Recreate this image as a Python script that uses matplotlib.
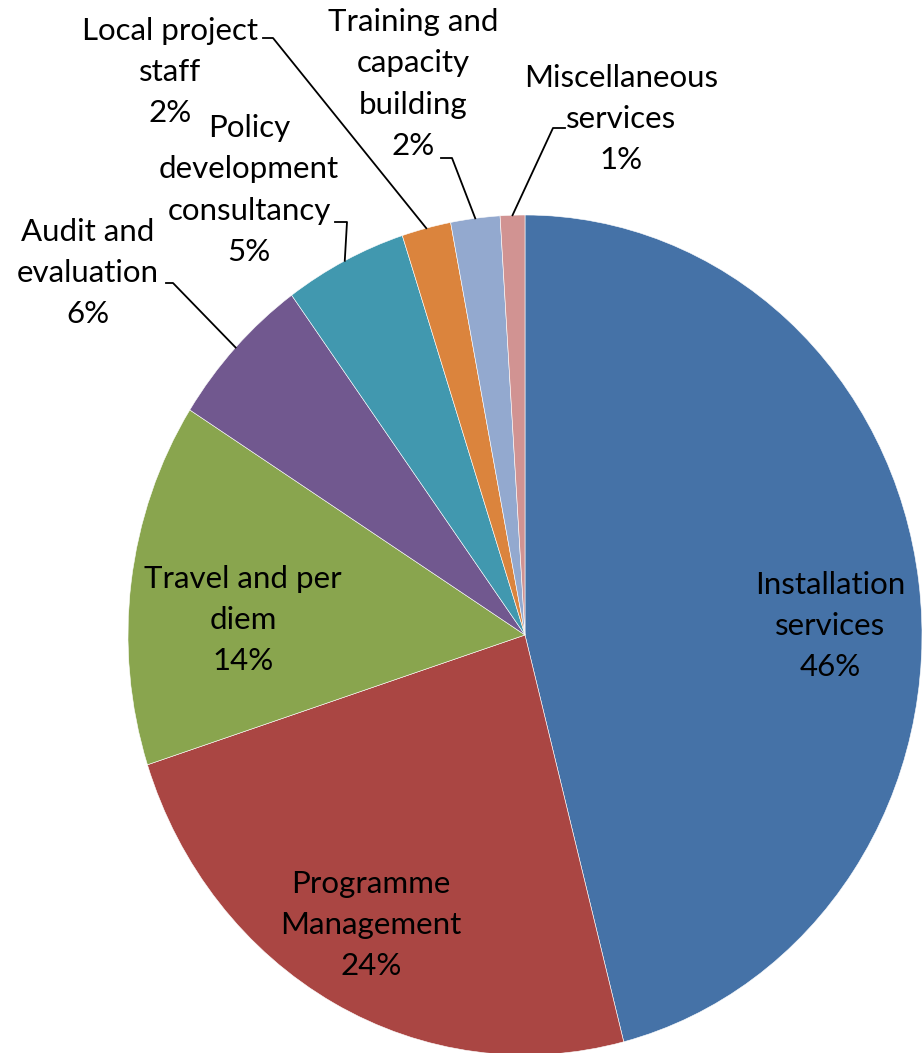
import numpy as np
import matplotlib
matplotlib.use("Agg")
import matplotlib.pyplot as plt
from matplotlib.lines import Line2D

# budget split, clockwise from 12 o'clock
categories = ["Installation\nservices", "Programme\nManagement", "Travel and per\ndiem",
              "Audit and\nevaluation", "Policy\ndevelopment\nconsultancy", "Local project\nstaff",
              "Training and\ncapacity\nbuilding", "Miscellaneous\nservices"]
shares = [46, 24, 14, 6, 5, 2, 2, 1]
colors = ["#4572A7", "#AA4643", "#89A54E", "#71588F", "#4198AF", "#DB843D", "#93A9CF", "#D19392"]

W, H = 922, 1053
plt.rcParams['font.family'] = ['Lato', 'DejaVu Sans']

fig = plt.figure(figsize=(W / 100, H / 100), dpi=100)
fig.patch.set_facecolor("white")

# pie box in pixels (left, top, right, bottom); slightly taller than wide
box = (128, 215, 922, 1055)
ax = fig.add_axes([box[0] / W, 1 - box[3] / H, (box[2] - box[0]) / W, (box[3] - box[1]) / H])
wedges, _ = ax.pie(shares, colors=colors, startangle=90, counterclock=False, radius=1,
                   wedgeprops=dict(edgecolor="white", linewidth=0.4))
ax.set_xlim(-1, 1)
ax.set_ylim(-1, 1)
ax.set_aspect("auto")
ax.axis("off")

# label placement: text block centre and (for outside labels) the leader elbow, in pixels from top-left
label_pos = [(830, 626), (371, 925), (243, 620), (88, 273), (249, 190), (170, 72), (413, 84), (621, 119)]
elbows = [None, None, None,
          ((166, 283), (173, 283)),
          ((335, 222), (347, 222)),
          ((263, 38), (273, 38)),
          ((441, 158), (452, 158)),
          ((565, 128), (553, 128))]


def px(x, y):
    return x / W, 1 - y / H


to_fig = ax.transData + fig.transFigure.inverted()
cum = np.cumsum([0] + shares) / sum(shares)
for i, (name, val) in enumerate(zip(categories, shares)):
    fx, fy = px(*label_pos[i])
    fig.text(fx, fy, f"{name}\n{val}%", ha="center", va="center", multialignment="center",
             fontsize=22.5, linespacing=1.58, color="black")
    if elbows[i] is not None:
        mid = 2 * np.pi * (cum[i] + cum[i + 1]) / 2
        ex, ey = to_fig.transform((np.sin(mid), np.cos(mid)))
        (x0, y0), (x1, y1) = elbows[i]
        p0, p1 = px(x0, y0), px(x1, y1)
        fig.add_artist(Line2D([p0[0], p1[0], ex], [p0[1], p1[1], ey], color="black",
                              linewidth=1.3, transform=fig.transFigure))

fig.savefig("out.png", dpi=100, facecolor="white")
